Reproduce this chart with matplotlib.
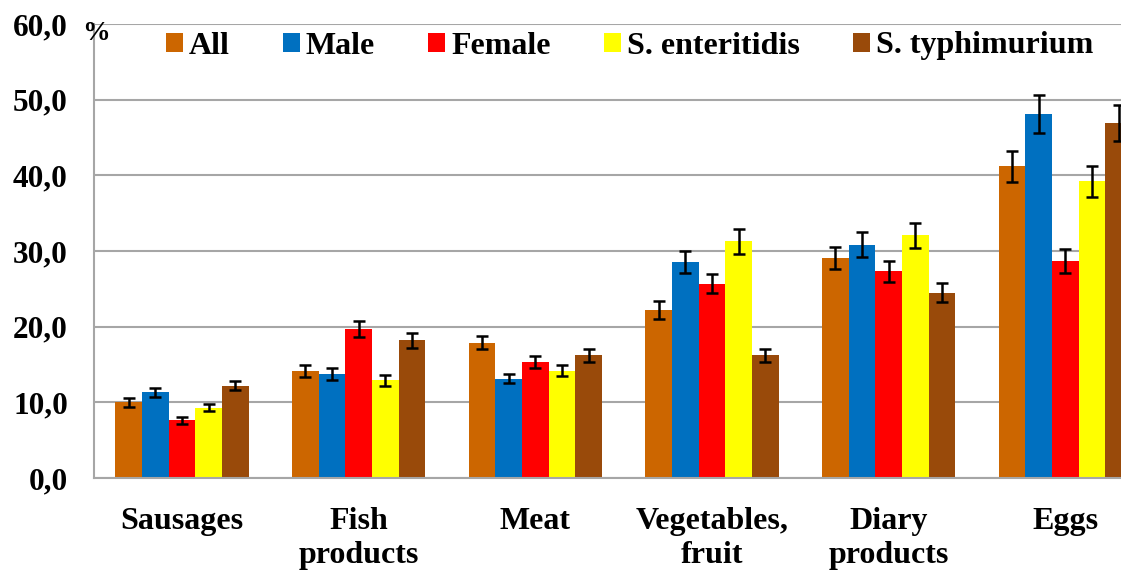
import matplotlib
matplotlib.use("Agg")
import matplotlib.pyplot as plt
import numpy as np

categories = ["Sausages", "Fish\nproducts", "Meat", "Vegetables,\nfruit", "Diary\nproducts", "Eggs"]
series_names = ["All", "Male", "Female", "S. enteritidis", "S. typhimurium"]
colors = ["#CC6600", "#0070C0", "#FF0000", "#FFFF00", "#994A0A"]

all_vals = [10.0, 14.2, 17.9, 22.2, 29.1, 41.2]
male_vals = [11.3, 13.7, 13.1, 28.5, 30.8, 48.1]
female_vals = [7.6, 19.7, 15.3, 25.7, 27.3, 28.7]
sent_vals = [9.3, 12.9, 14.2, 31.3, 32.1, 39.2]
styph_vals = [12.2, 18.2, 16.2, 16.2, 24.5, 46.9]

all_err = [0.6, 0.8, 0.9, 1.25, 1.45, 2.05]
male_err = [0.6, 0.8, 0.6, 1.45, 1.65, 2.5]
female_err = [0.5, 1.05, 0.8, 1.3, 1.4, 1.6]
sent_err = [0.5, 0.7, 0.7, 1.65, 1.65, 2.0]
styph_err = [0.6, 1.0, 0.85, 0.9, 1.3, 2.4]

yticks = [0, 10, 20, 30, 40, 50, 60]
ytick_labels = ["0,0", "10,0", "20,0", "30,0", "40,0", "50,0", "60,0"]

values = [all_vals, male_vals, female_vals, sent_vals, styph_vals]
errors = [all_err, male_err, female_err, sent_err, styph_err]

plt.rcParams['font.family'] = ['Liberation Serif', 'DejaVu Serif']
plt.rcParams['font.weight'] = 'bold'

W, H = 1121, 572
fig = plt.figure(figsize=(W / 100, H / 100), dpi=100)
ax = fig.add_axes([93.6 / W, 94 / H, 1060 / W, 454 / H])

x = np.arange(len(categories))
w = 0.151
for i, (vals, errs, c, name) in enumerate(zip(values, errors, colors, series_names)):
    pos = x + (i - 2) * w
    ax.bar(pos, vals, width=w, color=c, label=name, zorder=2, linewidth=0)
    ax.errorbar(pos, vals, yerr=errs, fmt='none', ecolor='black', elinewidth=1.8,
                capsize=4.5, capthick=1.8, zorder=3)

ax.set_xlim(-0.5, len(categories) - 0.5)
ax.set_ylim(0, 60)
ax.set_yticks(yticks)
ax.set_yticklabels(ytick_labels, fontsize=22.5, fontweight='bold')
ax.set_xticks(x)
ax.set_xticklabels(categories, fontsize=23, fontweight='bold', linespacing=1.22)
ax.tick_params(axis='both', length=0)
ax.tick_params(axis='y', pad=18.5)
ax.tick_params(axis='x', pad=21)
ax.grid(axis='y', color='#A6A6A6', linewidth=1.5, zorder=0)
ax.set_axisbelow(True)
for s in ['top', 'right']:
    ax.spines[s].set_visible(False)
for s in ['left', 'bottom']:
    ax.spines[s].set_color('#A6A6A6')
    ax.spines[s].set_linewidth(1.5)

fig.text(82 / W, 1 - 34 / H, "%", fontsize=20, fontweight='bold', va='center', ha='left')

handles, labels = ax.get_legend_handles_labels()
fig.legend(handles, labels, loc='center left', bbox_to_anchor=(166 / W, 1 - 46 / H), ncol=5,
           frameon=False, prop={'family': 'Liberation Serif', 'weight': 'bold', 'size': 23},
           handlelength=0.53, handleheight=0.53, handletextpad=0.19, columnspacing=1.66,
           borderaxespad=0, borderpad=0)

fig.savefig("out.png", dpi=100)
